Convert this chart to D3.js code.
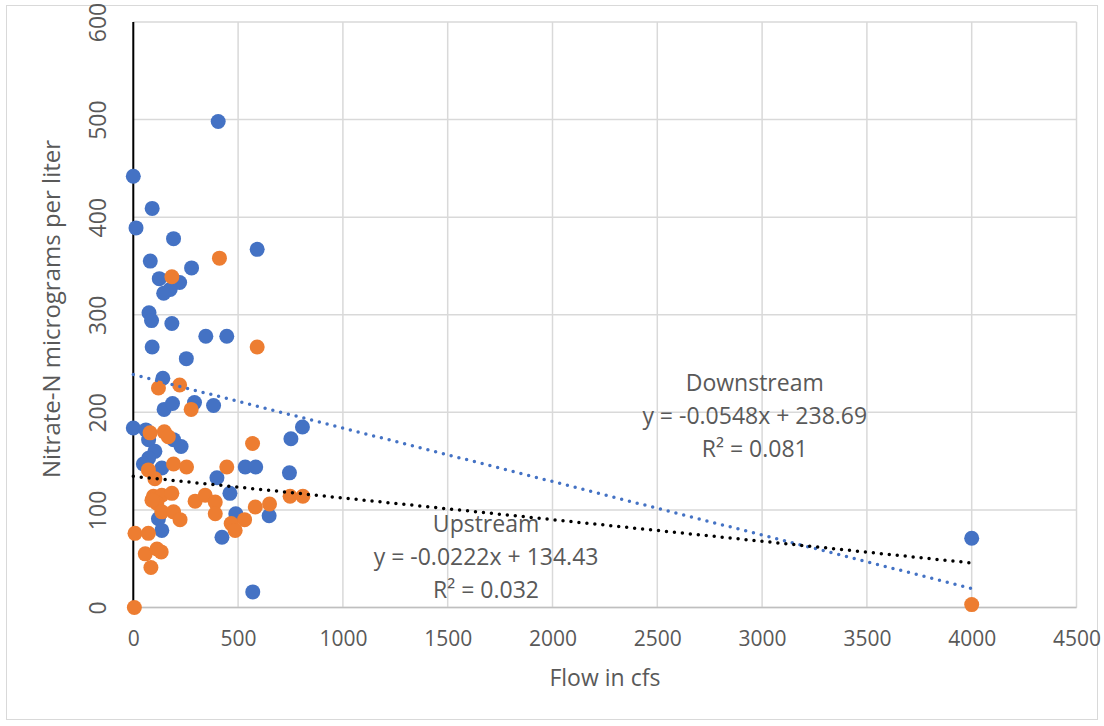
<!DOCTYPE html>
<html>
<head>
<meta charset="utf-8">
<script src="https://cdn.jsdelivr.net/npm/d3@7"></script>
<style>
  body { margin: 0; background: #fff; }
  text { font-family: "Open Sans", "Noto Sans", sans-serif; fill: #595959; }
</style>
</head>
<body>
<div id="chart"></div>
<script>
// Downstream (blue) points: [flow cfs, nitrate-N ug/L]
const downstream = [
  [0,442],[90,409],[13,389],[192,378],[591,367],[81,355],[278,348],[124,337],[221,333],
  [176,326],[145,322],[75,302],[87,294],[184,291],[346,278],[446,278],[90,267],[253,255],
  [141,235],[147,203],[187,209],[292,210],[383,207],[405,498],[0,184],[60,182],[73,172],
  [192,172],[228,165],[103,160],[73,153],[48,147],[136,143],[752,173],[807,185],[534,144],
  [584,144],[745,138],[399,133],[461,117],[489,96],[648,94],[120,91],[136,79],[423,72],
  [570,16],[4000,71]
];
// Upstream (orange) points
const upstream = [
  [411,358],[184,339],[591,267],[120,225],[221,228],[276,203],[80,179],[148,180],[167,175],
  [569,168],[192,147],[254,144],[446,144],[72,141],[103,132],[96,114],[136,115],[184,117],
  [112,107],[136,98],[192,98],[223,90],[295,109],[343,115],[391,108],[391,96],[748,114],
  [809,114],[582,103],[650,106],[467,86],[531,90],[486,79],[8,76],[72,76],[57,55],[133,57],
  [113,60],[84,41],[5,0],[4000,3],[89,110]
];
// linear trendlines shown in the chart
const trends = [
  {name: "Downstream", slope: -0.0548, intercept: 238.69, r2: "0.081", color: "#4472C4", lx: 2965, ly: 222},
  {name: "Upstream",   slope: -0.0222, intercept: 134.43, r2: "0.032", color: "#000000", lx: 1683, ly: 77}
];
const xTicks = [0,500,1000,1500,2000,2500,3000,3500,4000,4500];
const yTicks = [0,100,200,300,400,500,600];

var W = 1104, H = 726;
var margin = {top: 22, right: 1104 - 1076.5, bottom: 726 - 607.5, left: 133.3};

var svg = d3.select("#chart").append("svg")
  .attr("width", W).attr("height", H);

svg.append("rect")
  .attr("x", 6.5).attr("y", 5.5).attr("width", 1091).attr("height", 714)
  .style("fill", "#fff").style("stroke", "#d9d9d9").style("stroke-width", 1);

const x = d3.scaleLinear().domain([0, 4500]).range([margin.left, W - margin.right]);
const y = d3.scaleLinear().domain([0, 600]).range([H - margin.bottom, margin.top]);

// gridlines
svg.append("g").selectAll("line").data(xTicks).enter().append("line")
  .attr("x1", d => x(d)).attr("x2", d => x(d))
  .attr("y1", y(0)).attr("y2", y(600))
  .style("stroke", "#d9d9d9").style("stroke-width", 1.5);
svg.append("g").selectAll("line").data(yTicks).enter().append("line")
  .attr("x1", x(0)).attr("x2", x(4500))
  .attr("y1", d => y(d)).attr("y2", d => y(d))
  .style("stroke", "#d9d9d9").style("stroke-width", 1.5);

// bottom axis line
svg.append("line")
  .attr("x1", x(0)).attr("x2", x(4500)).attr("y1", y(0)).attr("y2", y(0))
  .style("stroke", "#bfbfbf").style("stroke-width", 1.5);

// tick labels via d3 axes, domain/ticks hidden
var xAxis = svg.append("g")
  .attr("transform", "translate(0," + y(0) + ")")
  .call(d3.axisBottom(x).tickValues(xTicks).tickSize(0).tickPadding(24).tickFormat(d3.format("d")));
xAxis.select(".domain").remove();
xAxis.selectAll("text").style("font-size", "21px")
  .style("font-family", "'Open Sans', sans-serif").attr("fill", "#595959");

var yAxis = svg.append("g")
  .attr("transform", "translate(" + x(0) + ",0)")
  .call(d3.axisLeft(y).tickValues(yTicks).tickSize(0).tickFormat(d3.format("d")));
yAxis.select(".domain").remove();
yAxis.selectAll("text")
  .attr("x", null)
  .attr("text-anchor", "middle")
  .attr("transform", "translate(-35,0) rotate(-90)")
  .attr("dy", "0.35em")
  .style("font-size", "23px")
  .style("font-family", "'Open Sans', sans-serif").attr("fill", "#595959");

// vertical black axis at x = 0
svg.append("line")
  .attr("x1", x(0)).attr("x2", x(0)).attr("y1", y(0)).attr("y2", y(600))
  .style("stroke", "#000").style("stroke-width", 2);

// points
svg.append("g").selectAll("circle").data(downstream).enter().append("circle")
  .attr("cx", d => x(d[0])).attr("cy", d => y(d[1])).attr("r", 7.5)
  .style("fill", "#4472C4");
svg.append("g").selectAll("circle").data(upstream).enter().append("circle")
  .attr("cx", d => x(d[0])).attr("cy", d => y(d[1])).attr("r", 7.5)
  .style("fill", "#ED7D31");

// trendlines + labels
trends.forEach(t => {
  svg.append("line")
    .attr("x1", x(0)).attr("y1", y(t.intercept))
    .attr("x2", x(4000)).attr("y2", y(t.intercept + t.slope * 4000))
    .style("stroke", t.color).style("stroke-width", 3.5)
    .style("stroke-linecap", "round").style("stroke-dasharray", "0 8");

  var lines = [t.name,
    "y = " + t.slope + "x + " + t.intercept,
    "R\u00B2 = " + t.r2];
  svg.append("g").selectAll("text").data(lines).enter().append("text")
    .attr("x", x(t.lx))
    .attr("y", (d, i) => y(t.ly) + i * 33)
    .attr("text-anchor", "middle")
    .style("font-size", "23px")
    .text(d => d);
});

// axis titles
svg.append("text")
  .attr("x", (x(0) + x(4500)) / 2).attr("y", 686)
  .attr("text-anchor", "middle").style("font-size", "23px")
  .text("Flow in cfs");
svg.append("text")
  .attr("transform", "translate(60," + 309 + ") rotate(-90)")
  .attr("text-anchor", "middle").style("font-size", "24px")
  .text("Nitrate-N micrograms per liter");
</script>
</body>
</html>
